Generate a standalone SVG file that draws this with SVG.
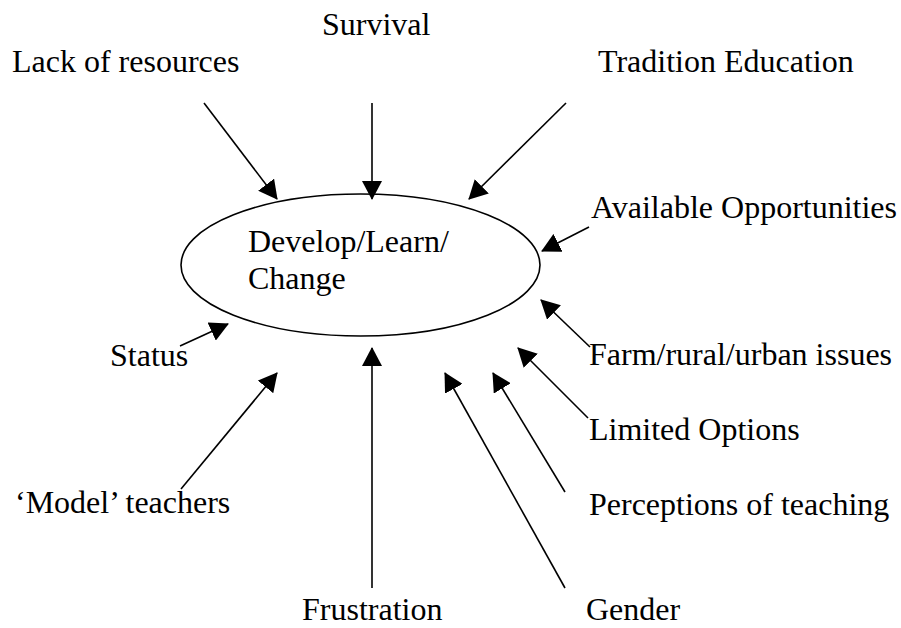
<svg xmlns="http://www.w3.org/2000/svg" width="901" height="628" viewBox="0 0 901 628">
<style>
  text { font-family: "Liberation Serif", "Times New Roman", serif; font-size: 32px; fill: #000; }
  .conn line { stroke: #000; stroke-width: 1.6; marker-end: url(#ah); }
  .node ellipse { fill: #fff; stroke: #000; stroke-width: 1.6; }
</style>
<defs>
  <marker id="ah" markerUnits="userSpaceOnUse" viewBox="0 0 19 20" refX="18" refY="10" markerWidth="19" markerHeight="20" orient="auto">
    <path d="M0,0 L19,10 L0,20 z" fill="#000"/>
  </marker>
</defs>
<g id="center" class="node">
  <ellipse cx="360.5" cy="265" rx="179.5" ry="71"/>
  <text x="248" y="252">Develop/Learn/</text>
  <text x="248" y="289">Change</text>
</g>
<g id="lack" class="node"><text x="12" y="72">Lack of resources</text></g>
<g id="survival" class="node"><text x="322" y="35">Survival</text></g>
<g id="tradition" class="node"><text x="598" y="72">Tradition Education</text></g>
<g id="available" class="node"><text x="591" y="218">Available Opportunities</text></g>
<g id="farm" class="node"><text x="589" y="365">Farm/rural/urban issues</text></g>
<g id="limited" class="node"><text x="589" y="440">Limited Options</text></g>
<g id="perceptions" class="node"><text x="589" y="515">Perceptions of teaching</text></g>
<g id="status" class="node"><text x="110" y="366">Status</text></g>
<g id="model" class="node"><text x="15" y="513">‘Model’ teachers</text></g>
<g id="frustration" class="node"><text x="302" y="620">Frustration</text></g>
<g id="gender" class="node"><text x="586" y="620">Gender</text></g>
<g id="connectors" class="conn">
  <line x1="204" y1="103" x2="277" y2="199"/>
  <line x1="372" y1="103" x2="372" y2="199"/>
  <line x1="566" y1="103" x2="469" y2="199"/>
  <line x1="589" y1="227" x2="542" y2="251"/>
  <line x1="590" y1="347" x2="541" y2="300"/>
  <line x1="588" y1="418" x2="518" y2="348"/>
  <line x1="565" y1="492" x2="493" y2="373"/>
  <line x1="565" y1="588" x2="445" y2="373"/>
  <line x1="372" y1="588" x2="372" y2="348"/>
  <line x1="181" y1="489" x2="277" y2="373"/>
  <line x1="180" y1="346" x2="228" y2="324"/>
</g>
</svg>
